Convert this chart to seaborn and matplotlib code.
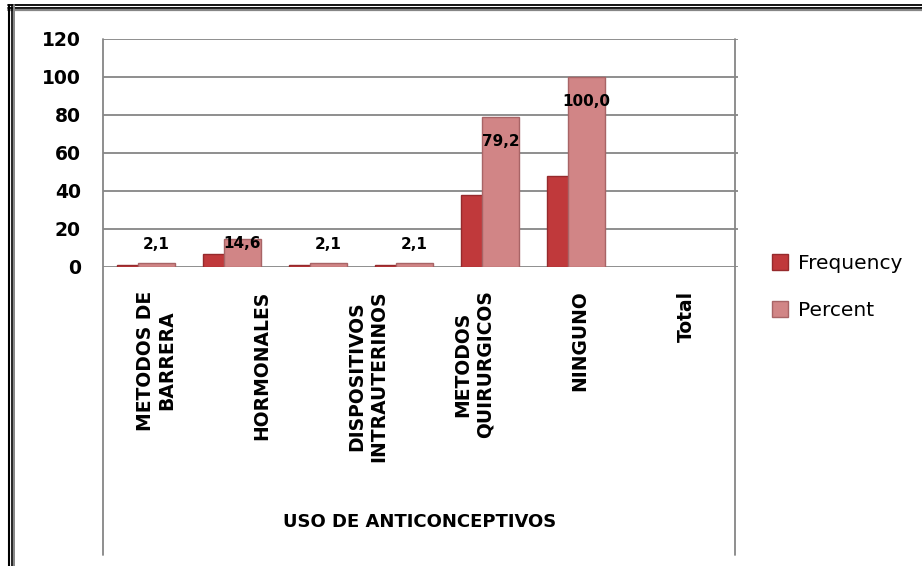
import pandas as pd
import matplotlib.pyplot as plt
import seaborn as sns
from matplotlib.lines import Line2D
from matplotlib.patches import Patch

# datos del grafico
categorias = ['METODOS DE\nBARRERA', 'HORMONALES', 'DISPOSITIVOS\nINTRAUTERINOS',
              'METODOS\nQUIRURGICOS', 'NINGUNO', 'Total']
frecuencia = [1, 7, 1, 1, 38, 48]
porcentaje = [2.1, 14.6, 2.1, 2.1, 79.2, 100.0]
series = ['Frequency', 'Percent']
y_ticks = [0, 20, 40, 60, 80, 100, 120]

df = pd.DataFrame({
    'categoria': categorias * 2,
    'serie': [series[0]] * len(categorias) + [series[1]] * len(categorias),
    'valor': frecuencia + porcentaje,
})

colores = {'Frequency': '#C0393B', 'Percent': '#D18586'}
bordes = {'Frequency': '#962A2C', 'Percent': '#A86466'}
gris = '#868686'

sns.set_style('white')
plt.rcParams['font.family'] = ['DejaVu Sans']
plt.rcParams['text.color'] = 'black'
plt.rcParams['xtick.color'] = 'black'
plt.rcParams['ytick.color'] = 'black'

W, H = 922, 566
fig = plt.figure(figsize=(W / 100, H / 100), dpi=100)
ax = fig.add_axes([103 / W, 1 - 267 / H, 635 / W, 228 / H])

sns.barplot(data=df, x='categoria', y='valor', hue='serie', palette=colores,
            width=0.49, gap=0, saturation=1, legend=False, ax=ax)

# barras mas anchas y superpuestas (como el grafico 3D de Excel)
for cont, s in zip(ax.containers, series):
    for bar in cont:
        cx = bar.get_x() + bar.get_width() / 2
        bar.set_x(cx - 0.22)
        bar.set_width(0.44)
        bar.set_edgecolor(bordes[s])
        bar.set_linewidth(1)

# etiquetas de porcentaje
for bar, v in zip(ax.containers[1], porcentaje):
    cx = bar.get_x() + bar.get_width() / 2
    y = v - 13 if v > 50 else max(v - 2, 12)
    ax.text(cx, y, f'{v:.1f}'.replace('.', ','), ha='center', va='center',
            fontsize=11, fontweight='bold', color='black')

ax.set_ylim(0, 120)
ax.set_xlim(-0.5, -0.5 + 635 / 86)
ax.set_yticks(y_ticks)
ax.tick_params(axis='y', length=0, pad=16, labelsize=13.5, labelcolor='black')
for t in ax.get_yticklabels():
    t.set_fontweight('bold')
ax.tick_params(axis='x', bottom=False, labelbottom=False)
ax.set_xlabel('')
ax.set_ylabel('')
ax.grid(axis='y', color=gris, lw=1.3)
ax.set_axisbelow(True)
for sp in ax.spines.values():
    sp.set_visible(False)

# eje de categorias (mas ancho que las barras)
escala = 106 / 86
sec = ax.secondary_xaxis('bottom', functions=(lambda x: (x + 0.5) / escala - 0.5,
                                              lambda x: (x + 0.5) * escala - 0.5))
sec.set_xticks(range(len(categorias)), labels=categorias, rotation=90, fontsize=13.5,
               fontweight='bold', ha='center', va='top', multialignment='center',
               color='black')
sec.tick_params(length=0, pad=17)
sec.spines['bottom'].set_visible(False)

fig.text(420 / W, 1 - 522 / H, 'USO DE ANTICONCEPTIVOS', ha='center', va='center',
         fontsize=13, fontweight='bold', color='black')

# lineas del area de trazado
for x in [103, 735]:
    fig.add_artist(Line2D([x / W, x / W], [1 - 39 / H, 1 - 555 / H], color=gris, lw=1.3,
                          transform=fig.transFigure))

# borde doble de la imagen
for y, c, lw in [(5, 'black', 1.3), (7.5, 'black', 1.3), (9.8, gris, 1.6)]:
    fig.add_artist(Line2D([8 / W, 1], [1 - y / H] * 2, color=c, lw=lw, transform=fig.transFigure))
for x, c, lw in [(8.5, 'black', 1.5), (11.5, 'black', 1.2), (14, gris, 1.4)]:
    fig.add_artist(Line2D([x / W] * 2, [0, 1 - 5 / H], color=c, lw=lw, transform=fig.transFigure))

handles = [Patch(facecolor=colores[s], edgecolor=bordes[s]) for s in series]
fig.legend(handles, series, loc='upper left', bbox_to_anchor=(772 / W, 1 - 254 / H),
           frameon=False, fontsize=14.5, handlelength=0.8, handleheight=0.8,
           handletextpad=0.5, labelspacing=1.4, borderpad=0, borderaxespad=0,
           labelcolor='black')

fig.savefig('out.png', dpi=100)
